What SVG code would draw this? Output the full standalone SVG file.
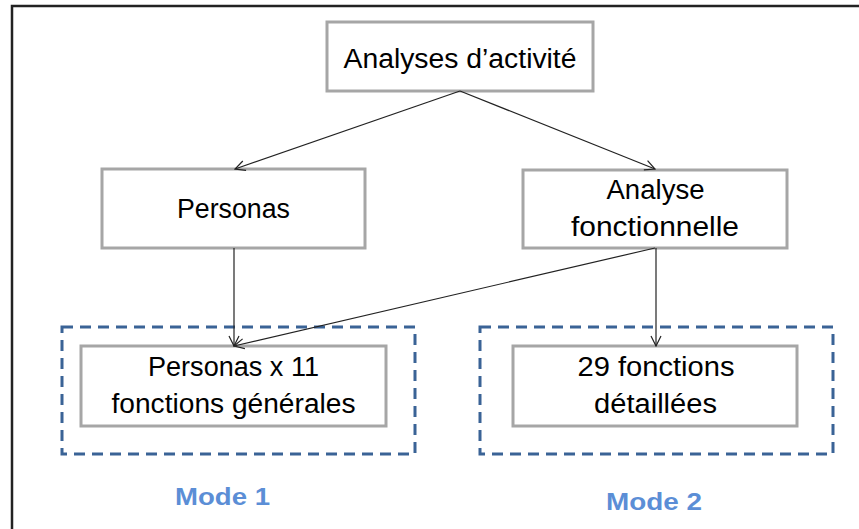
<svg xmlns="http://www.w3.org/2000/svg" width="859" height="529" viewBox="0 0 859 529">
<defs>
<style>
.box{fill:#fff;stroke:#a6a6a6;stroke-width:3}
.grp{fill:none;stroke:#3a6396;stroke-width:3;stroke-dasharray:11 7}
.t{font-family:"Liberation Sans",Arial,sans-serif;font-size:27px;fill:#000;text-anchor:middle}
.m{font-family:"Liberation Sans",Arial,sans-serif;font-size:24px;font-weight:bold;fill:#5b8ed6;text-anchor:middle}
.c{fill:none;stroke:#222;stroke-width:1.2}
</style>
<marker id="ah" viewBox="0 0 12 12" refX="11" refY="6" markerWidth="12" markerHeight="12" markerUnits="userSpaceOnUse" orient="auto">
<path d="M1,1 L11,6 L1,11" fill="none" stroke="#222" stroke-width="1.2"/>
</marker>
</defs>
<rect width="859" height="529" fill="#fff"/>
<path d="M12,529 V6 H859" fill="none" stroke="#222" stroke-width="2.5"/>
<g id="group-mode1"><rect class="grp" x="62" y="327" width="353" height="127"/></g>
<g id="group-mode2"><rect class="grp" x="480" y="327" width="353" height="127"/></g>
<g id="node-analyses"><rect class="box" x="327" y="22" width="266" height="69"/><text class="t" x="460" y="68" textLength="233" lengthAdjust="spacingAndGlyphs">Analyses d’activité</text></g>
<g id="node-personas"><rect class="box" x="102" y="169" width="263" height="79"/><text class="t" x="233.5" y="218" textLength="113" lengthAdjust="spacingAndGlyphs">Personas</text></g>
<g id="node-analyse-fonct"><rect class="box" x="523" y="170" width="264" height="78"/><text class="t" x="655.5" y="199" textLength="98" lengthAdjust="spacingAndGlyphs">Analyse</text><text class="t" x="655" y="236" textLength="168" lengthAdjust="spacingAndGlyphs">fonctionnelle</text></g>
<g id="node-personas-x11"><rect class="box" x="81" y="346" width="305" height="80"/><text class="t" x="233.5" y="376" textLength="171" lengthAdjust="spacingAndGlyphs">Personas x 11</text><text class="t" x="233.5" y="413" textLength="244" lengthAdjust="spacingAndGlyphs">fonctions générales</text></g>
<g id="node-29"><rect class="box" x="513" y="346" width="284" height="80"/><text class="t" x="656" y="376" textLength="157" lengthAdjust="spacingAndGlyphs">29 fonctions</text><text class="t" x="655.5" y="413" textLength="123" lengthAdjust="spacingAndGlyphs">détaillées</text></g>
<g id="label-mode1"><text class="m" x="222.5" y="505" textLength="95" lengthAdjust="spacingAndGlyphs">Mode 1</text></g>
<g id="label-mode2"><text class="m" x="654" y="510" textLength="96" lengthAdjust="spacingAndGlyphs">Mode 2</text></g>
<g id="connectors">
<line class="c" x1="460" y1="91" x2="235" y2="169" marker-end="url(#ah)"/>
<line class="c" x1="460" y1="91" x2="655" y2="169" marker-end="url(#ah)"/>
<line class="c" x1="234" y1="248" x2="234" y2="346" marker-end="url(#ah)"/>
<line class="c" x1="655" y1="248" x2="234" y2="346" marker-end="url(#ah)"/>
<line class="c" x1="656" y1="248" x2="656" y2="346" marker-end="url(#ah)"/>
</g>
</svg>
